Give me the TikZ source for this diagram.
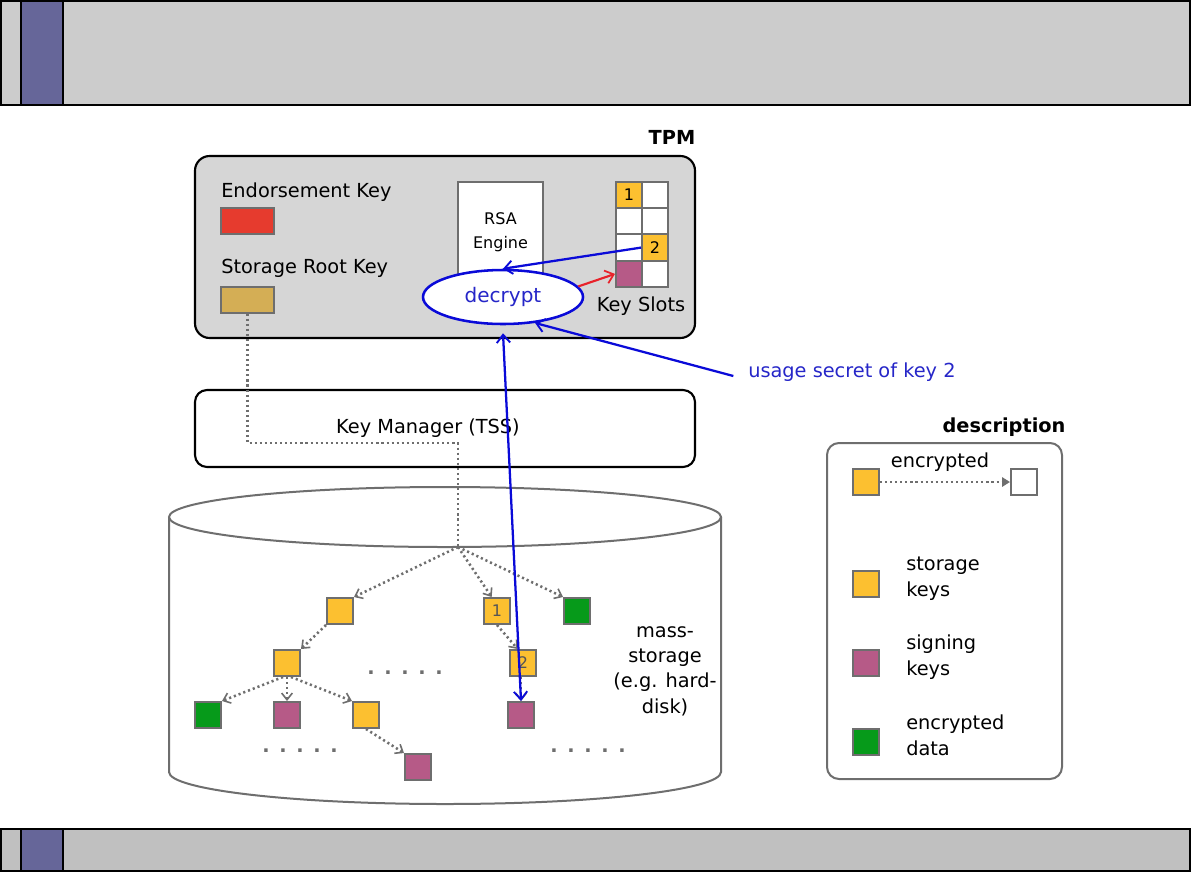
\documentclass[tikz,border=0pt]{standalone}
\usepackage{fontspec}
\setmainfont{DejaVu Sans}
\usetikzlibrary{arrows.meta,shapes.geometric}
\definecolor{hdrgray}{HTML}{CCCCCC}
\definecolor{ftrgray}{HTML}{C0C0C0}
\definecolor{strip}{HTML}{666699}
\definecolor{tpmfill}{HTML}{D6D6D6}
\definecolor{ekred}{HTML}{E63B2E}
\definecolor{srktan}{HTML}{D4AE55}
\definecolor{kyellow}{HTML}{FCC030}
\definecolor{kpurple}{HTML}{B65A87}
\definecolor{kgreen}{HTML}{069A1A}
\definecolor{kborder}{HTML}{6E6E6E}
\definecolor{dblue}{HTML}{0A0AD8}
\definecolor{tblue}{HTML}{2626C8}
\definecolor{ared}{HTML}{E8222A}
\definecolor{numgray}{HTML}{555555}
\begin{document}
\begin{tikzpicture}[x=0.75pt,y=-0.75pt,
  font=\fontsize{14.5}{19.5}\selectfont,
  keybox/.style={draw=kborder, line width=1.5pt, minimum size=19.5pt, inner sep=0pt, font=\fontsize{12}{12}\selectfont},
  keyrect/.style={draw=kborder, line width=1.5pt, minimum width=39.75pt, minimum height=19.5pt, inner sep=0pt},
  slot/.style={draw=kborder, line width=1.5pt, fill=white, minimum width=19.5pt, minimum height=19.7pt, inner sep=0pt, font=\fontsize{12}{12}\selectfont},
  dotarrow/.style={draw=kborder, line width=1.9pt, dash pattern=on 1.6pt off 2.2pt, -{Straight Barb[length=5pt,width=8pt,line width=1.2pt]}},
  dotline/.style={draw=kborder, line width=1.9pt, dash pattern=on 1.6pt off 2.2pt},
  bluearrow/.style={draw=dblue, line width=1.7pt, -{Straight Barb[length=6pt,width=10pt,line width=1.4pt]}},
  legtext/.style={anchor=west, align=left, inner sep=0pt},
  dotrow/.style={text=kborder, font=\fontsize{14.5}{16}\bfseries\selectfont}
]
\useasboundingbox (0,0) rectangle (1191,893);

% header and footer bars
\node[draw=black, line width=1.5pt, fill=hdrgray, minimum width=891.75pt, minimum height=78pt, inner sep=0pt] (hdr) at (595.5,53) {};
\node[draw=black, line width=1.5pt, fill=strip, minimum width=31.5pt, minimum height=78pt, inner sep=0pt] (hdrstrip) at (42,53) {};
\node[draw=black, line width=1.5pt, fill=ftrgray, minimum width=891.75pt, minimum height=31.5pt, inner sep=0pt] (ftr) at (595.5,850) {};
\node[draw=black, line width=1.5pt, fill=strip, minimum width=31.5pt, minimum height=31.5pt, inner sep=0pt] (ftrstrip) at (42,850) {};

% TPM
\node[font=\fontsize{14.5}{16}\selectfont\bfseries] (tpmlabel) at (672,137) {TPM};
\node[draw=black, line width=1.6pt, fill=tpmfill, rounded corners=11pt, minimum width=375pt, minimum height=136.5pt, inner sep=0pt] (tpm) at (445,247) {};
\node[anchor=west, inner sep=0pt] (ekl) at (221,192) {Endorsement Key};
\node[keyrect, fill=ekred] (ek) at (247.5,221) {};
\node[anchor=west, inner sep=0pt] (srkl) at (221,268) {Storage Root Key};
\node[keyrect, fill=srktan] (srk) at (247.5,299.5) {};

\node[draw=kborder, line width=1.5pt, fill=white, minimum width=63.75pt, minimum height=81pt, inner sep=0pt] (rsa) at (500.5,236) {};
\node[align=center, font=\fontsize{12}{18}\selectfont] (rsal) at (500.5,232) {RSA\\Engine};
\node[ellipse, draw=dblue, line width=1.9pt, fill=white, minimum width=120pt, minimum height=40.5pt, inner sep=0pt, text=tblue, font=\fontsize{15}{16}\selectfont] (dec) at (503,297) {decrypt};

% key slots
\node[slot, fill=kyellow] (s11) at (629,195.1) {1};
\node[slot] (s12) at (655,195.1) {};
\node[slot] (s21) at (629,221.4) {};
\node[slot] (s22) at (655,221.4) {};
\node[slot] (s31) at (629,247.6) {};
\node[slot, fill=kyellow] (s32) at (655,247.6) {2};
\node[slot, fill=kpurple] (s41) at (629,273.9) {};
\node[slot] (s42) at (655,273.9) {};
\node (ksl) at (641,306) {Key Slots};

\draw[bluearrow] (s32.west) -- (dec.north);
\draw[draw=ared, line width=1.6pt, -{Straight Barb[length=6pt,width=10pt,line width=1.3pt]}] (dec.8) -- (s41.west);

\node[anchor=west, inner sep=0pt, text=tblue] (usage) at (748,372) {usage secret of key 2};
\draw[bluearrow] ([xshift=-11pt,yshift=-3pt]usage.west) -- (dec.-39);

% key manager
\node[draw=black, line width=1.6pt, fill=white, rounded corners=9pt, minimum width=375pt, minimum height=57.75pt, inner sep=0pt] (km) at (445,428.5) {};
\node (kml) at (428,428) {Key Manager (TSS)};

% cylinder
\draw[draw=kborder, line width=1.5pt, fill=white] (169,517) -- (169,772) arc[start angle=180, end angle=360, x radius=207pt, y radius=24pt] -- (721,517);
\draw[draw=kborder, line width=1.5pt, fill=white] (445,517) ellipse [x radius=207pt, y radius=22.5pt];

\coordinate (branch) at (458,547);
\coordinate (turn) at (458,443);
\draw[dotline] (srk.south) |- (turn) -- (branch);

% keys in storage
\node[keybox, fill=kyellow] (ka) at (340,611) {};
\node[keybox, fill=kyellow, text=numgray] (k1) at (497,611) {1};
\node[keybox, fill=kgreen] (g1) at (577,611) {};
\node[keybox, fill=kyellow] (kb) at (287,663) {};
\node[keybox, fill=kyellow, text=numgray] (k2) at (523,663) {2};
\node[keybox, fill=kgreen] (g2) at (208,715) {};
\node[keybox, fill=kpurple] (p1) at (287,715) {};
\node[keybox, fill=kyellow] (kc) at (366,715) {};
\node[keybox, fill=kpurple] (p2) at (521,715) {};
\node[keybox, fill=kpurple] (p3) at (418,767) {};

\node[dotrow] (dots1) at (405,673) {.\,\,\,.\,\,\,.\,\,\,.\,\,\,.};
\node[dotrow] (dots2) at (300,751) {.\,\,\,.\,\,\,.\,\,\,.\,\,\,.};
\node[dotrow] (dots3) at (588,751) {.\,\,\,.\,\,\,.\,\,\,.\,\,\,.};
\node[align=center, font=\fontsize{14.5}{19}\selectfont] (ms) at (665,671) {mass-\\storage\\(e.g. hard-\\disk)};

\draw[dotarrow] (branch) -- (ka.north east);
\draw[dotarrow] (branch) -- ([xshift=-4pt]k1.north);
\draw[dotarrow] (branch) -- (g1.north west);
\draw[dotarrow] (ka.south west) -- (kb.north east);
\draw[dotarrow] ([xshift=-3pt]kb.south) -- (g2.north east);
\draw[dotarrow] (kb.south) -- (p1.north);
\draw[dotarrow] ([xshift=3pt]kb.south) -- (kc.north west);
\draw[dotarrow] (kc.south) -- (p3.north west);
\draw[dotarrow] (k1.south) -- ([xshift=-4pt]k2.north);
\draw[dotarrow] ([xshift=-1.5pt]k2.south) -- (p2.north);

\draw[dblue, line width=1.7pt, {Straight Barb[length=6pt,width=10pt,line width=1.4pt]}-{Straight Barb[length=6pt,width=10pt,line width=1.4pt]}] ([yshift=-6pt]dec.south) -- (p2.north);

% description
\node[font=\fontsize{14.5}{16}\selectfont\bfseries] (desclabel) at (1004,427) {description};
\node[draw=kborder, line width=1.5pt, fill=white, rounded corners=9pt, minimum width=176.25pt, minimum height=252pt, inner sep=0pt] (desc) at (944.5,611) {};
\node[keybox, fill=kyellow] (le1) at (866,482) {};
\node[keybox, fill=white] (le2) at (1024,482) {};
\draw[draw=kborder, line width=1.9pt, dash pattern=on 1.6pt off 2.2pt, -{Triangle[length=6pt,width=7pt]}] (le1.east) -- (le2.west);
\node (encl) at (940,462) {encrypted};
\node[keybox, fill=kyellow] (ls) at (866,584) {};
\node[legtext] (lsl) at (906,579) {storage\\keys};
\node[keybox, fill=kpurple] (lp) at (866,663) {};
\node[legtext] (lpl) at (906,657) {signing\\keys};
\node[keybox, fill=kgreen] (lg) at (866,742) {};
\node[legtext] (lgl) at (906,735) {encrypted\\data};
\end{tikzpicture}
\end{document}
